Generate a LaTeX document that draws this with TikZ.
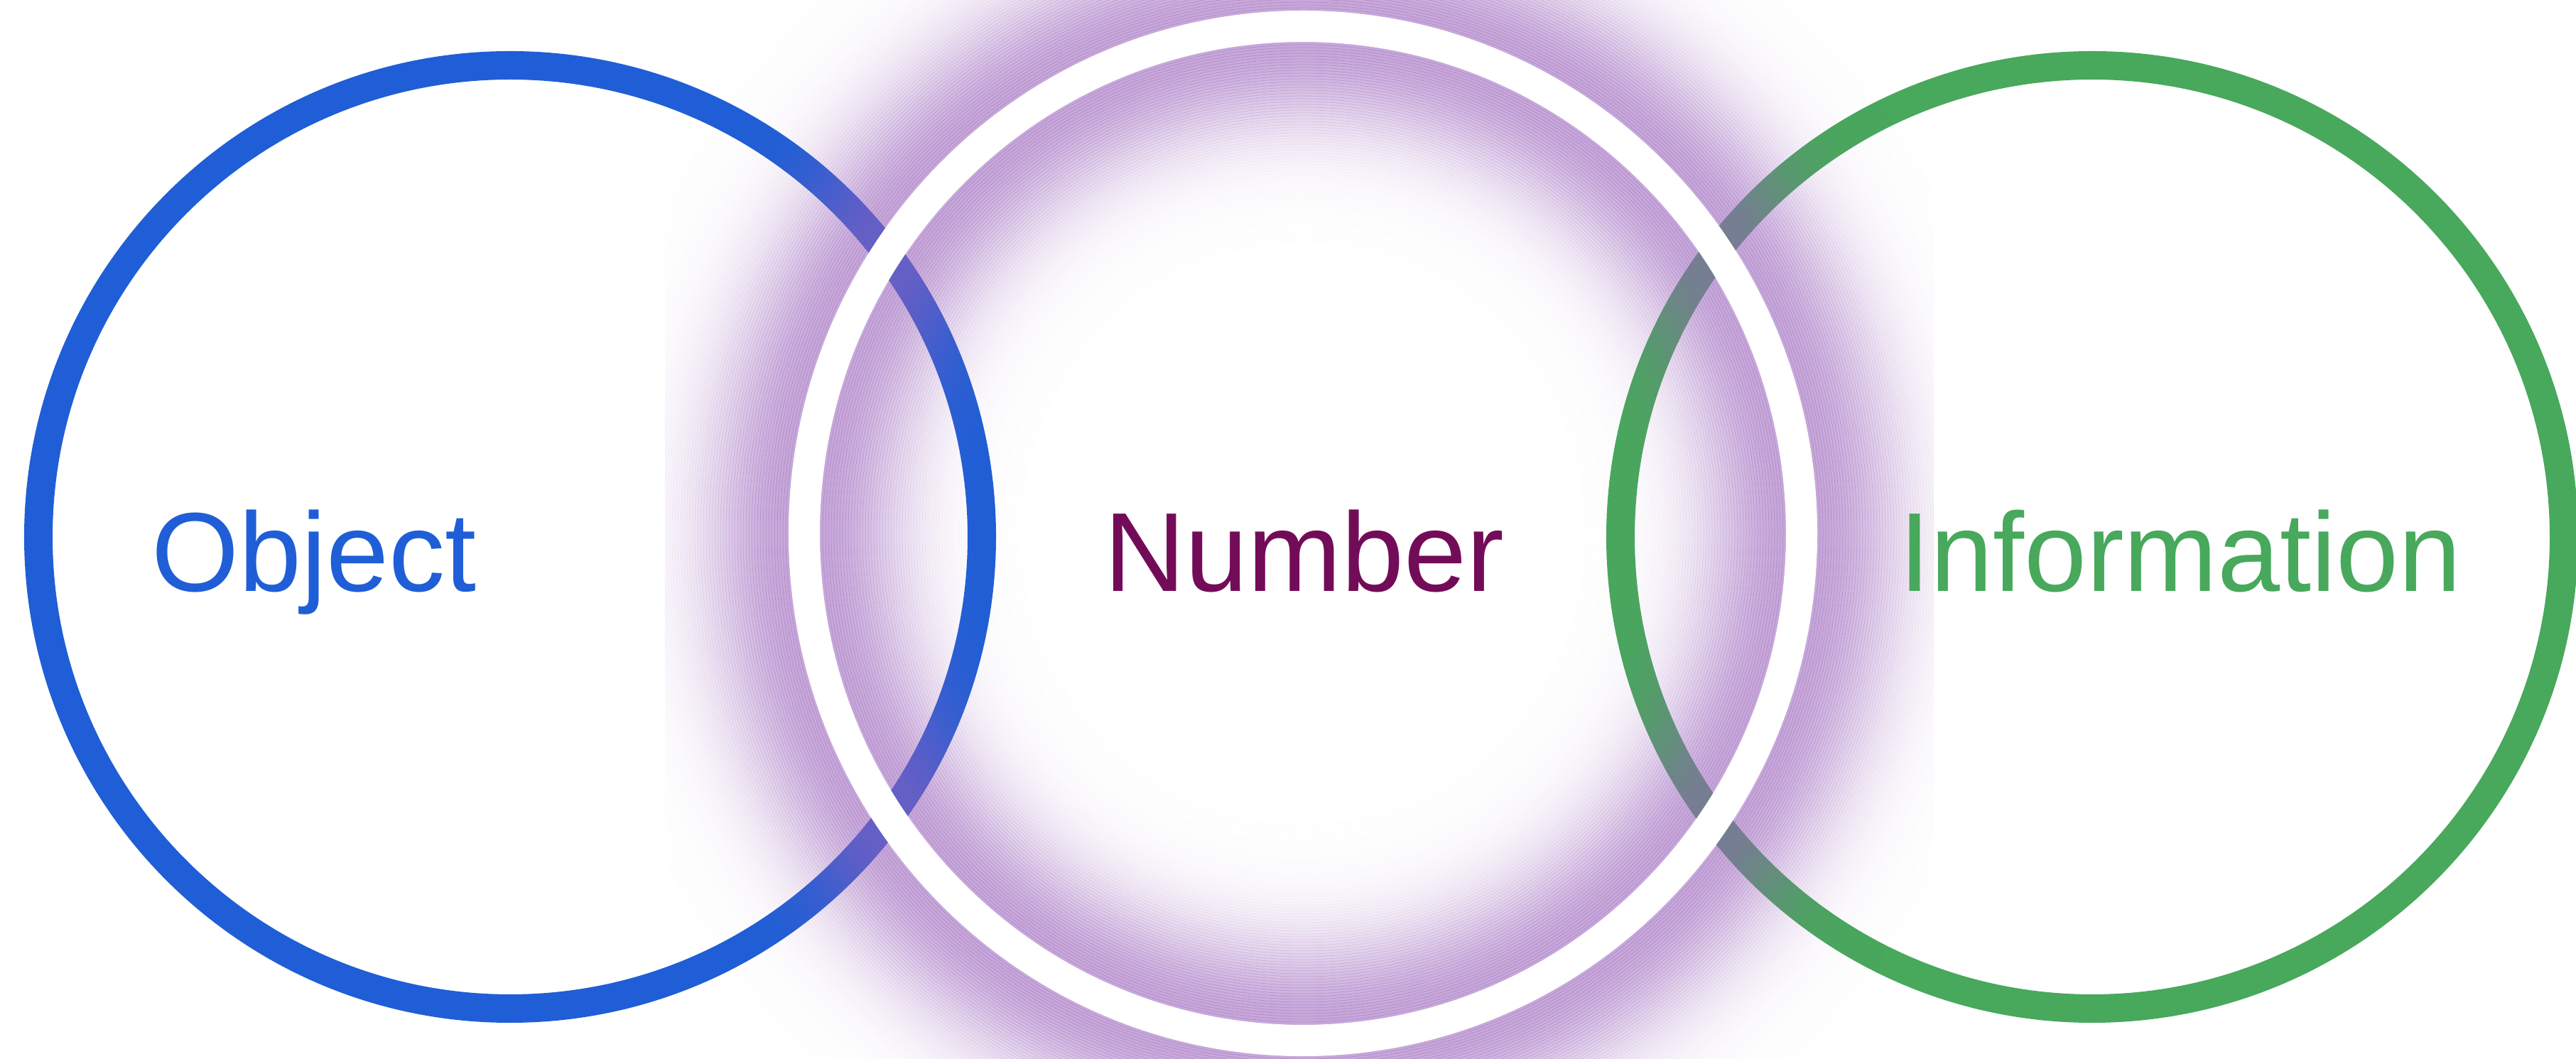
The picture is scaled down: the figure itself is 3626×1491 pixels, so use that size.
\documentclass[tikz,border=0pt]{standalone}
\usepackage{fontspec}
\setmainfont{Liberation Sans}
\definecolor{objblue}{RGB}{31,94,214}
\definecolor{infogreen}{RGB}{72,168,92}
\definecolor{numpurple}{RGB}{115,12,88}
\definecolor{glowpurple}{RGB}{152,96,186}

\begin{document}
\begin{tikzpicture}[
    x=0.01cm, y=0.01cm,
    word/.style={font=\fontsize{45}{54}\selectfont, inner sep=0pt, anchor=base},
    ring/.style={line width=0.4cm},
    whitering/.style={draw=white, line width=0.44cm},
    glow/.style={glowpurple, line width=0.045cm}
]
\useasboundingbox (0,0) rectangle (3626,1491);
\fill[white] (0,0) rectangle (3626,1491);

\coordinate (cobj) at (718,735);
\coordinate (cnum) at (1834,740);
\coordinate (cinfo) at (2945,735);

\draw[ring, objblue] (cobj) circle[radius=664];
\draw[ring, infogreen] (cinfo) circle[radius=664];

% soft glow on both sides of the middle ring
\begin{scope}
\clip (936,0) rectangle (2722,1491);
\foreach \e in {0,4,...,296} {
  \pgfmathsetmacro\op{0.55*exp(-((\e+2)/120)^2)}
  \draw[glow, opacity=\op] (cnum) ellipse[x radius=726+\e, y radius=738+\e];
  \draw[glow, opacity=\op] (cnum) ellipse[x radius=678-\e, y radius=690-\e];
}
\end{scope}

\draw[whitering] (cnum) ellipse[x radius=702, y radius=714];

\node[word, text=objblue] (obj) at (442,658) {Object};
\node[word, text=numpurple] (num) at (1836,658) {Number};
\node[word, text=infogreen] (info) at (3069,658) {Information};
\end{tikzpicture}
\end{document}
